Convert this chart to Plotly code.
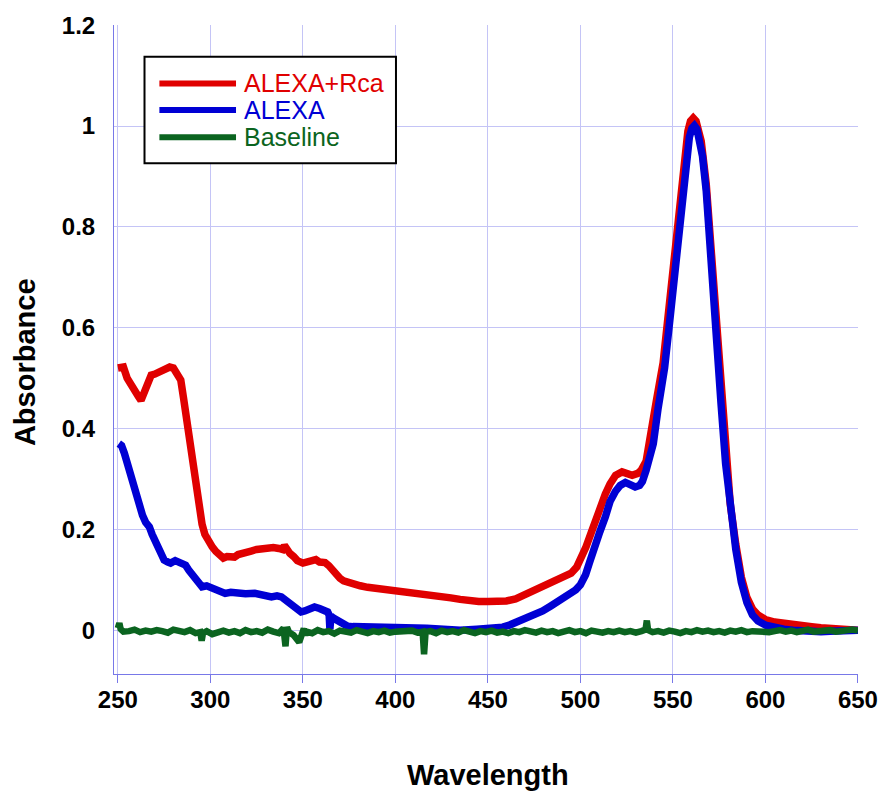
import plotly.graph_objects as go

# ---------------- data ----------------
red_wl = [250, 253, 255, 257, 259, 261, 262.5, 264, 266, 268,
          270, 272, 274, 276, 278, 280, 282, 284, 285.5, 287,
          289, 291, 292.5, 294, 295.5, 297, 299, 301, 303, 305,
          307, 309, 311, 313, 315, 317, 319, 322, 325, 328,
          331, 334, 337, 339, 340, 341, 343, 345, 347, 350,
          352, 355, 357, 359, 362, 364, 366, 368, 370, 372,
          375, 378, 381, 385, 390, 395, 400, 405, 410, 415,
          420, 425, 430, 435, 440, 445, 450, 455, 460, 465,
          470, 475, 480, 485, 490, 495, 498, 501, 503, 506,
          508, 511, 513.5, 516, 519, 522.5, 526, 528, 531, 533,
          535.5, 538.4, 541.1, 544.7, 547.4, 550.1, 552.7, 555.4, 558.1, 559.5,
          561, 562.5, 564, 565.3, 568, 570.7, 573.4, 576, 578.5, 581,
          584, 587, 590, 593, 596, 600, 605, 610, 615, 620,
          625, 630, 635, 640, 645, 650]
red_abs = [0.520, 0.522, 0.500, 0.486, 0.478, 0.464, 0.456, 0.468, 0.492, 0.506,
           0.508, 0.512, 0.512, 0.518, 0.522, 0.520, 0.510, 0.496, 0.460, 0.420,
           0.377, 0.335, 0.290, 0.245, 0.210, 0.190, 0.175, 0.165, 0.156, 0.150,
           0.143, 0.146, 0.146, 0.145, 0.150, 0.153, 0.155, 0.157, 0.160, 0.162,
           0.163, 0.164, 0.162, 0.160, 0.168, 0.160, 0.152, 0.146, 0.138, 0.133,
           0.136, 0.140, 0.140, 0.135, 0.134, 0.128, 0.118, 0.110, 0.103, 0.098,
           0.094, 0.092, 0.088, 0.085, 0.083, 0.081, 0.079, 0.077, 0.075, 0.072,
           0.069, 0.066, 0.064, 0.061, 0.058, 0.057, 0.057, 0.057, 0.058, 0.062,
           0.070, 0.078, 0.086, 0.093, 0.102, 0.113, 0.125, 0.145, 0.165, 0.195,
           0.218, 0.245, 0.270, 0.290, 0.307, 0.314, 0.310, 0.307, 0.311, 0.318,
           0.335, 0.390, 0.456, 0.530, 0.621, 0.720, 0.820, 0.919, 0.990, 1.010,
           1.016, 1.010, 0.993, 0.970, 0.886, 0.754, 0.589, 0.460, 0.340, 0.250,
           0.170, 0.105, 0.065, 0.042, 0.030, 0.021, 0.016, 0.013, 0.011, 0.009,
           0.007, 0.005, 0.003, 0.002, 0.001, 0.000]

blue_wl = [250.5, 252, 253.5, 255, 256.5, 258, 260, 261.5, 263.3, 265,
           267, 268.5, 270.5, 272.5, 275, 277, 278.5, 281, 283, 285,
           286.6, 288.5, 291, 293, 295.5, 298, 300.8, 304, 308, 311,
           315, 319, 324, 328, 333, 336, 338.4, 340.5, 343, 345,
           347, 349, 351, 353, 356.3, 359, 361, 363.4, 364.2, 364.6,
           365.2, 366.5, 368.8, 371, 374, 377, 381, 390, 399, 408,
           417, 426, 435, 444, 453, 458, 461.6, 466, 470.6, 475,
           479.6, 484, 488.5, 493, 497.5, 500, 502.8, 505, 508.2, 510.5,
           513.5, 516, 518.9, 521.5, 524.3, 527, 529.6, 532, 533.5, 535.5,
           537, 539.4, 542, 545.5, 548.2, 550.9, 553.5, 556.2, 558.9, 560.3,
           561.6, 563, 564.5, 566, 568, 570.7, 573.4, 576, 578.5, 581,
           584, 587, 590, 593, 596, 600, 605, 610, 615, 620,
           625, 630, 635, 640, 645, 650]
blue_abs = [0.370, 0.366, 0.351, 0.330, 0.315, 0.292, 0.264, 0.242, 0.228, 0.214,
            0.205, 0.190, 0.172, 0.155, 0.139, 0.135, 0.133, 0.138, 0.135, 0.133,
            0.129, 0.118, 0.106, 0.096, 0.086, 0.088, 0.083, 0.078, 0.073, 0.075,
            0.073, 0.072, 0.073, 0.070, 0.066, 0.068, 0.066, 0.060, 0.053, 0.050,
            0.040, 0.036, 0.038, 0.042, 0.046, 0.043, 0.040, 0.036, 0.030, 0.002,
            0.028, 0.024, 0.018, 0.012, 0.008, 0.007, 0.007, 0.006, 0.007, 0.005,
            0.004, 0.002, 0.000, 0.002, 0.004, 0.006, 0.010, 0.016, 0.022, 0.030,
            0.038, 0.048, 0.058, 0.068, 0.080, 0.090, 0.110, 0.135, 0.165, 0.195,
            0.225, 0.255, 0.275, 0.287, 0.293, 0.290, 0.284, 0.287, 0.295, 0.317,
            0.335, 0.370, 0.440, 0.520, 0.610, 0.710, 0.810, 0.910, 0.978, 0.996,
            1.001, 0.994, 0.972, 0.940, 0.872, 0.745, 0.580, 0.450, 0.330, 0.240,
            0.160, 0.095, 0.055, 0.030, 0.018, 0.010, 0.005, 0.002, 0.000, -0.002,
            -0.003, -0.003, -0.002, -0.002, -0.001, 0.000]

base_wl = [250, 250.8, 251.5, 253, 256, 259, 262, 265, 268, 271,
           274, 277, 280, 283, 286, 289, 292, 294.5, 295.3, 296,
           298, 301, 304, 307, 310, 313, 316, 319, 322, 325,
           328, 331, 334, 337, 339.5, 340.6, 341.4, 342.5, 345, 348,
           350.5, 351.3, 352, 355, 358, 361, 364, 367, 370, 373,
           376, 379, 382, 385, 388, 391, 394, 397, 400, 403,
           406, 409, 412, 414.7, 415.5, 416.3, 419, 422, 425, 428,
           431, 434, 437, 440, 443, 446, 449, 452, 455, 458,
           461, 464, 467, 470, 473, 476, 479, 482, 485, 488,
           491, 494, 497, 500, 503, 506, 509, 512, 515, 518,
           521, 524, 527, 530, 533, 535.2, 535.9, 536.6, 539, 542,
           545, 548, 551, 554, 557, 560, 563, 566, 569, 572,
           575, 578, 581, 584, 587, 590, 593, 596, 599, 602,
           605, 608, 611, 614, 617, 620, 623, 626, 629, 632,
           635, 638, 641, 644, 647, 650]
base_abs = [0.004, 0.014, 0.002, -0.003, -0.002, 0.001, -0.004, -0.001, -0.003, 0.000,
            -0.002, -0.005, 0.001, -0.003, -0.004, 0.000, -0.006, -0.004, -0.021, -0.006,
            -0.002, -0.008, -0.003, -0.001, -0.005, -0.002, -0.006, 0.000, -0.004, -0.002,
            -0.005, 0.001, -0.003, -0.006, 0.004, -0.032, 0.006, -0.004, -0.010, -0.024,
            0.003, -0.010, -0.003, -0.006, 0.000, -0.004, -0.002, -0.007, -0.001, -0.003,
            -0.005, 0.000, -0.003, -0.006, -0.002, -0.004, -0.001, -0.005, -0.003, -0.002,
            -0.004, -0.001, -0.005, -0.003, -0.048, -0.004, -0.002, -0.006, -0.001, -0.004,
            -0.002, -0.005, 0.000, -0.003, -0.006, -0.002, -0.004, -0.001, -0.005, -0.003,
            -0.006, -0.002, -0.004, 0.000, -0.003, -0.005, -0.001, -0.004, -0.002, -0.006,
            -0.003, 0.000, -0.004, -0.002, -0.006, -0.001, -0.003, -0.005, -0.002, -0.004,
            -0.001, -0.004, -0.002, -0.005, -0.002, 0.001, 0.019, 0.000, -0.004, -0.002,
            -0.005, -0.001, -0.003, -0.006, -0.002, -0.004, 0.000, -0.003, -0.001, -0.004,
            -0.002, -0.005, -0.001, -0.003, 0.000, -0.004, -0.002, -0.003, -0.001, -0.004,
            -0.002, 0.000, -0.003, -0.001, -0.004, -0.002, 0.001, -0.003, -0.001, -0.002,
            0.000, -0.003, -0.001, -0.002, 0.001, -0.001]

x_ticks = [250, 300, 350, 400, 450, 500, 550, 600, 650]
y_ticks = [0, 0.2, 0.4, 0.6, 0.8, 1.0, 1.2]
y_tick_text = ["0", "0.2", "0.4", "0.6", "0.8", "1", "1.2"]

series_names = ["ALEXA+Rca", "ALEXA", "Baseline"]
series_colors = ["#e00000", "#0000d4", "#0b6420"]

# ---------------- figure ----------------
fig = go.Figure()
fig.add_trace(go.Scatter(x=red_wl, y=red_abs, mode="lines", name=series_names[0],
                         line=dict(color=series_colors[0], width=7.5)))
fig.add_trace(go.Scatter(x=blue_wl, y=blue_abs, mode="lines", name=series_names[1],
                         line=dict(color=series_colors[1], width=7.5)))
fig.add_trace(go.Scatter(x=base_wl, y=base_abs, mode="lines", name=series_names[2],
                         line=dict(color=series_colors[2], width=6.5)))

grid_col = "rgb(196,196,246)"
axis_col = "rgb(120,120,232)"
tick_font = dict(family="Liberation Sans, Arial, sans-serif", size=24, color="black", weight="bold")

fig.update_layout(
    width=890, height=796,
    margin=dict(l=114, r=27, t=25, b=122),
    paper_bgcolor="white", plot_bgcolor="white",
    showlegend=False,
    xaxis=dict(range=[247.9, 650.05], tickvals=x_ticks, showgrid=True, gridcolor=grid_col,
               gridwidth=1, zeroline=False, showline=True, linecolor=axis_col, linewidth=1,
               ticks="outside", ticklen=8, tickcolor=axis_col, tickfont=tick_font,
               ticklabelstandoff=-4),
    yaxis=dict(range=[-0.087, 1.2005], tickvals=y_ticks, ticktext=y_tick_text, showgrid=True,
               gridcolor=grid_col, gridwidth=1, zeroline=False, showline=True,
               linecolor=axis_col, linewidth=1, ticks="", ticklabelstandoff=13,
               tickfont=tick_font),
)

# axis titles
title_font = dict(family="Liberation Sans, Arial, sans-serif", size=29, color="black", weight="bold")
fig.add_annotation(text="Wavelength", xref="paper", yref="paper", x=0.503, y=-0.1556,
                   xanchor="center", yanchor="middle", showarrow=False, font=title_font)
fig.add_annotation(text="Absorbance", xref="paper", yref="paper", x=-0.1193, y=0.481,
                   xanchor="center", yanchor="middle", textangle=-90, showarrow=False,
                   font=title_font)

# legend box drawn manually
fig.add_shape(type="rect", xref="paper", yref="paper", x0=0.041, x1=0.379, y0=0.787, y1=0.951,
              line=dict(color="black", width=2), fillcolor="white", layer="above")
legend_y = [0.910, 0.869, 0.827]
for name, col, ly in zip(series_names, series_colors, legend_y):
    fig.add_shape(type="line", xref="paper", yref="paper", x0=0.061, x1=0.164, y0=ly, y1=ly,
                  line=dict(color=col, width=6), layer="above")
    fig.add_annotation(text=name, xref="paper", yref="paper", x=0.172, y=ly, xanchor="left",
                       yanchor="middle", showarrow=False,
                       font=dict(family="Liberation Sans, Arial, sans-serif", size=25, color=col))

fig.write_html("out.html")
